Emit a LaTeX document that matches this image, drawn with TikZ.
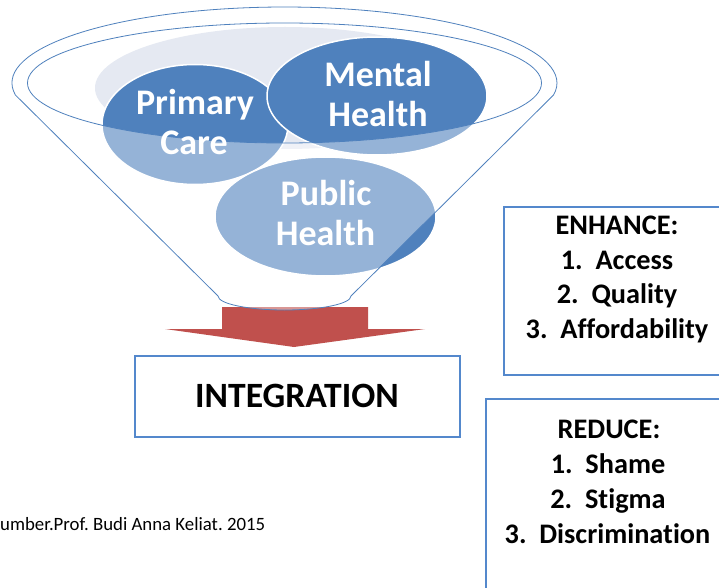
\documentclass[tikz,border=0pt]{standalone}
\usepackage{fontspec}
\setmainfont[Ligatures=NoCommon]{Carlito}
\usetikzlibrary{shapes.geometric}
\definecolor{fdark}{RGB}{79,129,189}
\definecolor{fbg}{RGB}{229,233,242}
\definecolor{fred}{RGB}{192,80,77}
\definecolor{fbox}{RGB}{84,136,204}
\tikzset{
  blob/.style={ellipse, inner sep=0pt, fill=fdark, draw=white, line width=1.5pt},
  blobtxt/.style={anchor=base, text=white, inner sep=0pt, font=\bfseries\fontsize{36}{40}\selectfont},
  boxtxt/.style={anchor=base, text=black, inner sep=0pt, font=\bfseries\fontsize{28.3}{34}\selectfont},
  frame/.style={draw=fbox, line width=2pt},
  funnelline/.style={draw=fdark, line width=0.8pt}
}
\begin{document}
\frenchspacing
\begin{tikzpicture}[x=1pt,y=-1pt]
\clip (0,0) rectangle (719,588);
\fill[white] (0,0) rectangle (719,588);
% red arrow
\fill[fred] (222,307) -- (368,307) -- (368,329) -- (425,329) -- (294,347) -- (165,329) -- (222,329) -- cycle;
% background ellipse and the three circles
\node[ellipse, inner sep=0pt, fill=fbg, minimum width=380pt, minimum height=122pt] (bg) at (285,88) {};
\node[blob, minimum width=186pt, minimum height=120pt] (pc) at (195,124.5) {};
\node[blob, minimum width=220pt, minimum height=118pt] (mh) at (377,96) {};
\node[blob, minimum width=221pt, minimum height=119pt] (ph) at (325.5,216.5) {};
% translucent funnel body below the rim
\path[fill=white, fill opacity=0.4, even odd rule]
  (15.4,95) arc[start angle=189.08, end angle=-9.08, x radius=272.5pt, y radius=76pt]
  -- (351,296) arc[start angle=0, end angle=-180, x radius=66.5pt, y radius=14pt] -- cycle
  (284.5,83) ellipse [x radius=257pt, y radius=60pt];
% funnel outlines
\path[funnelline]
  (15.4,95) arc[start angle=189.08, end angle=-9.08, x radius=272.5pt, y radius=76pt]
  -- (351,296) arc[start angle=0, end angle=-180, x radius=66.5pt, y radius=14pt] -- cycle;
\path[funnelline] (284.5,83) ellipse [x radius=257pt, y radius=60pt];
% circle texts
\node[blobtxt] (pc1) at (195,115) {Primary};
\node[blobtxt] (pc2) at (194,155) {Care};
\node[blobtxt] (mh1) at (378,87) {Mental};
\node[blobtxt] (mh2) at (378,127) {Health};
\node[blobtxt] (ph1) at (326,205) {Public};
\node[blobtxt] (ph2) at (325.5,245) {Health};
% integration box
\draw[frame] (135,356) rectangle (460,437);
\node[anchor=base, inner sep=0pt, font=\bfseries\fontsize{35.6}{40}\selectfont] (integ) at (297,407) {INTEGRATION};
% enhance box
\draw[frame] (504,207) rectangle (740,375);
\node[boxtxt] (e0) at (617,234) {ENHANCE:};
\node[boxtxt] (e1) at (617,269) {1.\ \ Access};
\node[boxtxt] (e2) at (617,303.5) {2.\ \ Quality};
\node[boxtxt] (e3) at (617,338) {3.\ \ Affordability};
% reduce box
\draw[frame] (486,399) rectangle (740,600);
\node[boxtxt] (r0) at (609,438) {REDUCE:};
\node[boxtxt] (r1) at (608,473) {1.\ \ Shame};
\node[boxtxt] (r2) at (608,508) {2.\ \ Stigma};
\node[boxtxt] (r3) at (607.5,543) {3.\ \ Discrimination};
% source note
\node[anchor=base west, inner sep=0pt, font=\fontsize{18.8}{22}\selectfont] (src) at (0,530) {umber.Prof. Budi Anna Keliat. 2015};
\end{tikzpicture}
\end{document}
